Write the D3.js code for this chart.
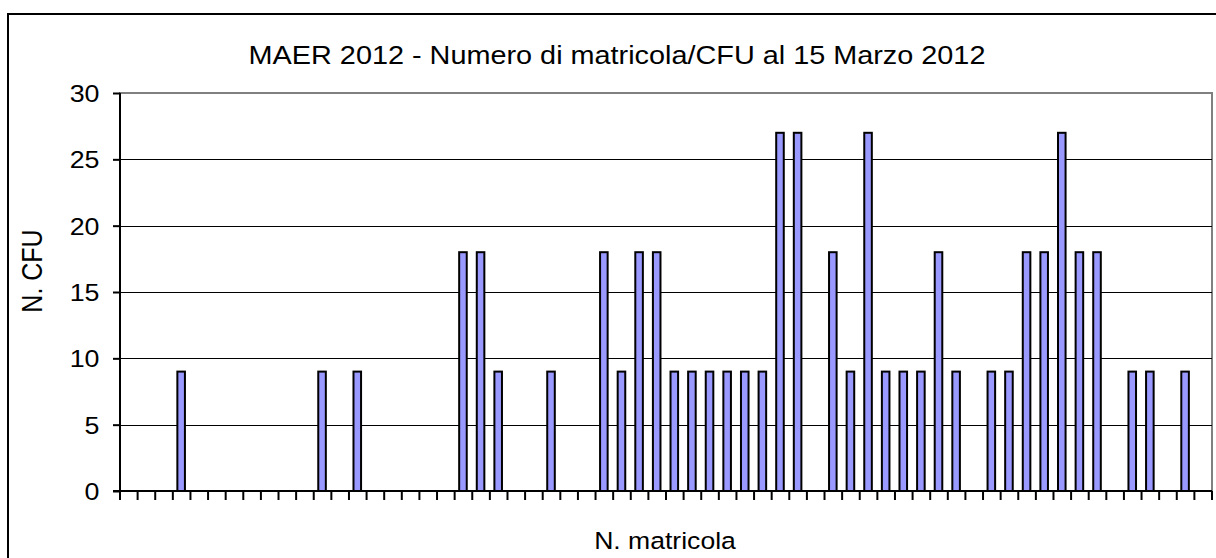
<!DOCTYPE html>
<html>
<head>
<meta charset="utf-8">
<script src="https://cdn.jsdelivr.net/npm/d3@7"></script>
<style>
  body { margin: 0; background: #fff; }
  svg { display: block; font-family: "Liberation Sans", Arial, sans-serif; }
</style>
</head>
<body>
<svg id="vis-svg"></svg>
<script>
// matricola slots (62) and CFU values, 0 = no bar
const slots = d3.range(62);
const barSlots = [3, 11, 13, 19, 20, 21, 24, 27, 28, 29, 30, 31, 32, 33, 34, 35, 36, 37, 38,
    40, 41, 42, 43, 44, 45, 46, 47, 49, 50, 51, 52, 53, 54, 55, 57, 58, 60];
const cfuValues = [9, 9, 9, 18, 18, 9, 9, 18, 9, 18, 18, 9, 9, 9, 9, 9, 9, 27, 27,
    18, 9, 27, 9, 9, 9, 18, 9, 9, 9, 18, 18, 27, 18, 18, 9, 9, 9];
const yTicks = [0, 5, 10, 15, 20, 25, 30];

const titleText = "MAER 2012 - Numero di matricola/CFU al 15 Marzo 2012",
    xLabelText = "N. matricola",
    yLabelText = "N. CFU";

const W = 1216, H = 558;
const margin = { top: 93, right: 4, bottom: 67, left: 120 },
    width = W - margin.left - margin.right,
    height = H - margin.top - margin.bottom;
const stretch = 1.14; // the original text looks widened a bit

const data = barSlots.map((s, i) => ({ slot: s, value: cfuValues[i] }));

const svg = d3.select("#vis-svg")
    .attr("width", W)
    .attr("height", H);

// outer chart frame (runs off the right and bottom edges)
svg.append("rect")
    .attr("x", 8).attr("y", 14)
    .attr("width", W + 20).attr("height", H + 20)
    .attr("fill", "none")
    .attr("stroke", "#000")
    .attr("stroke-width", 2);

const g = svg.append("g")
    .attr("transform", "translate(" + margin.left + "," + margin.top + ")");

const x = d3.scaleBand().domain(slots).range([0, width]).padding(0),
    y = d3.scaleLinear().domain([0, 30]).range([height, 0]);

// plot area border (grey)
g.append("rect")
    .attr("x", 0).attr("y", 0)
    .attr("width", width).attr("height", height)
    .attr("fill", "none")
    .attr("stroke", "#808080")
    .attr("stroke-width", 2);

// gridlines
g.selectAll(".grid")
    .data(yTicks.filter(d => d > 0 && d < 30))
    .enter().append("line")
    .attr("x1", 0).attr("x2", width)
    .attr("y1", d => Math.round(y(d)) + 0.5)
    .attr("y2", d => Math.round(y(d)) + 0.5)
    .attr("stroke", "#000")
    .attr("stroke-width", 1);

// bars
const barW = x.bandwidth() * 0.43;
g.selectAll(".bar")
    .data(data)
    .enter().append("rect")
    .attr("class", "bar")
    .attr("x", d => x(d.slot) + (x.bandwidth() - barW) / 2 - 0.5)
    .attr("y", d => y(d.value))
    .attr("width", barW)
    .attr("height", d => height - y(d.value))
    .attr("fill", "#9999ff")
    .attr("stroke", "#000")
    .attr("stroke-width", 2);

// y axis
const yAxis = g.append("g")
    .call(d3.axisLeft(y).tickValues(yTicks).tickSize(7));
yAxis.select(".domain").attr("stroke-width", 2).attr("d", "M0," + height + "V0");
yAxis.selectAll(".tick line").attr("stroke-width", 2);
yAxis.selectAll("text")
    .attr("x", 0)
    .attr("dy", "0.36em")
    .attr("transform", "translate(-20.5,0) scale(" + stretch + ",1)")
    .style("font-size", "23.5px")
    .attr("fill", "#000");

// x axis: ticks between categories, no labels
const xAxis = g.append("g")
    .attr("transform", "translate(0," + height + ")");
xAxis.append("line")
    .attr("x1", -7).attr("x2", width)
    .attr("stroke", "#000").attr("stroke-width", 2);
xAxis.selectAll(".xtick")
    .data(slots.concat([62]))
    .enter().append("line")
    .attr("x1", d => d === 62 ? width : x(d))
    .attr("x2", d => d === 62 ? width : x(d))
    .attr("y1", 0).attr("y2", 9)
    .attr("stroke", "#000").attr("stroke-width", 2);

// title
svg.append("text")
    .attr("transform", "translate(617,64) scale(" + stretch + ",1)")
    .attr("text-anchor", "middle")
    .style("font-size", "25.3px")
    .text(titleText);

// x axis label
svg.append("text")
    .attr("transform", "translate(665,549) scale(" + stretch + ",1)")
    .attr("text-anchor", "middle")
    .style("font-size", "23.3px")
    .text(xLabelText);

// y axis label
svg.append("text")
    .attr("transform", "translate(42,271) rotate(-90) scale(1,1.18)")
    .attr("text-anchor", "middle")
    .style("font-size", "25px")
    .text(yLabelText);
</script>
</body>
</html>
